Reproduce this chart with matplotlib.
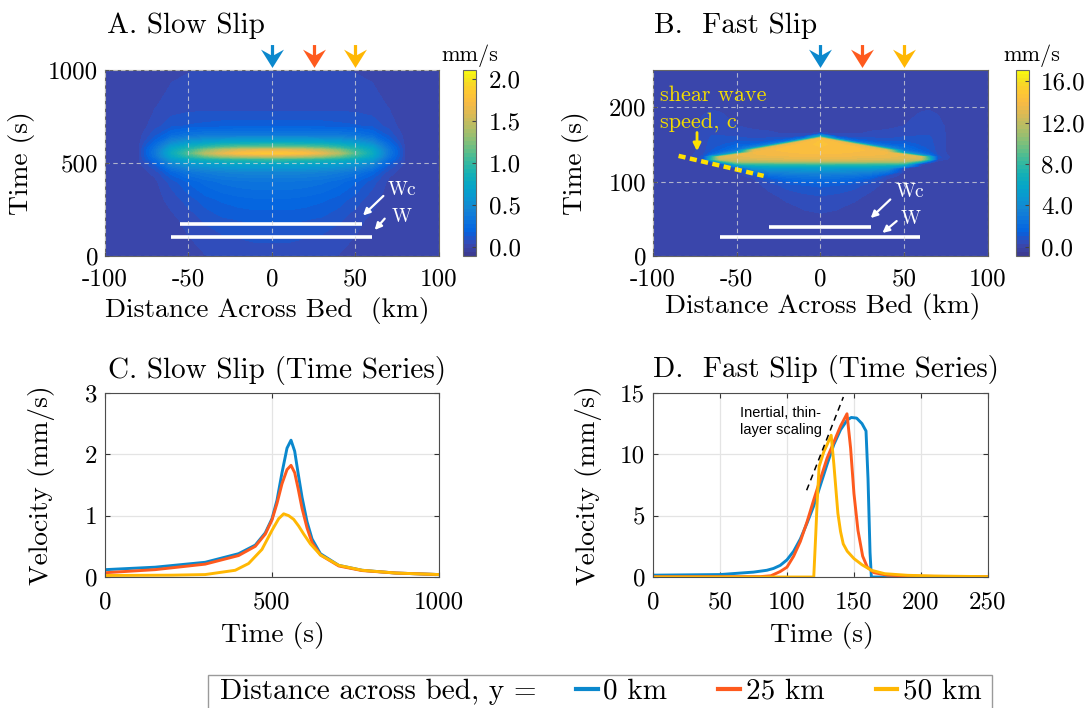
import numpy as np
import matplotlib
matplotlib.use('Agg')
import matplotlib.pyplot as plt
from matplotlib.colors import LinearSegmentedColormap
from matplotlib.path import Path
from matplotlib.lines import Line2D
from matplotlib.patches import Rectangle

plt.rcParams['font.family'] = ['cmr10', 'DejaVu Serif']
plt.rcParams['axes.unicode_minus'] = False

# ---------------- data ----------------
# panel A heatmap (half width, mirrored about x = 0), mm/s
xa_half = [0, 10, 20, 30, 40, 50, 60, 70, 80, 90, 100]
ta = [0, 100, 200, 300, 400, 450, 490, 520, 535, 552, 570, 585, 610, 650, 700, 800, 900, 1000]
va_half = [
    [0.05, 0.05, 0.05, 0.04, 0.03, 0.02, 0.01, 0.00, 0.00, 0.00, 0.00],
    [0.09, 0.09, 0.08, 0.07, 0.05, 0.03, 0.01, 0.00, 0.00, 0.00, 0.00],
    [0.14, 0.14, 0.13, 0.12, 0.09, 0.05, 0.02, 0.00, 0.00, 0.00, 0.00],
    [0.21, 0.21, 0.20, 0.18, 0.15, 0.10, 0.05, 0.01, 0.00, 0.00, 0.00],
    [0.31, 0.31, 0.30, 0.28, 0.24, 0.18, 0.10, 0.02, 0.00, 0.00, 0.00],
    [0.44, 0.44, 0.43, 0.41, 0.37, 0.31, 0.20, 0.05, 0.00, 0.00, 0.00],
    [0.68, 0.68, 0.67, 0.65, 0.61, 0.55, 0.42, 0.13, 0.01, 0.00, 0.00],
    [0.98, 0.97, 0.95, 0.91, 0.85, 0.76, 0.62, 0.24, 0.02, 0.00, 0.00],
    [1.45, 1.43, 1.38, 1.30, 1.14, 0.95, 0.73, 0.30, 0.02, 0.00, 0.00],
    [1.84, 1.82, 1.76, 1.63, 1.42, 1.08, 0.79, 0.33, 0.02, 0.00, 0.00],
    [1.62, 1.60, 1.55, 1.43, 1.24, 0.98, 0.75, 0.32, 0.02, 0.00, 0.00],
    [1.18, 1.17, 1.14, 1.08, 0.98, 0.84, 0.67, 0.28, 0.02, 0.00, 0.00],
    [0.76, 0.76, 0.75, 0.73, 0.68, 0.61, 0.48, 0.20, 0.01, 0.00, 0.00],
    [0.36, 0.36, 0.36, 0.35, 0.34, 0.31, 0.24, 0.11, 0.01, 0.00, 0.00],
    [0.15, 0.15, 0.15, 0.15, 0.14, 0.13, 0.11, 0.06, 0.00, 0.00, 0.00],
    [0.06, 0.06, 0.06, 0.06, 0.06, 0.06, 0.05, 0.03, 0.00, 0.00, 0.00],
    [0.045, 0.045, 0.045, 0.045, 0.045, 0.04, 0.035, 0.02, 0.00, 0.00, 0.00],
    [0.035, 0.035, 0.035, 0.035, 0.035, 0.03, 0.025, 0.015, 0.00, 0.00, 0.00],
]

# panel B heatmap (half width, mirrored), mm/s; one list per x column
xb_half = [0, 10, 20, 30, 40, 50, 60, 65, 70, 80, 100]
tb = [0, 50, 65, 80, 95, 103, 108, 113, 118, 121, 124, 127, 130, 133, 136, 139,
      142, 146, 150, 154, 158, 161, 165, 175, 190, 205, 250]
vb_cols = [
    [0.10, 0.15, 0.35, 0.60, 1.10, 2.00, 2.80, 3.90, 5.20, 6.60, 8.60, 11.5, 13.0, 13.6,
     13.9, 14.1, 14.2, 14.4, 14.5, 14.5, 14.3, 6.00, 0.30, 0.05, 0.00, 0.00, 0.00],
    [0.09, 0.12, 0.28, 0.50, 1.00, 1.90, 2.70, 3.80, 5.10, 6.50, 8.50, 11.5, 13.0, 13.6,
     13.9, 14.1, 14.2, 14.3, 14.3, 13.8, 2.50, 0.60, 0.20, 0.05, 0.00, 0.00, 0.00],
    [0.07, 0.08, 0.15, 0.35, 0.80, 1.60, 2.50, 3.70, 5.00, 6.50, 8.50, 11.5, 13.0, 13.5,
     13.8, 14.0, 14.1, 14.2, 13.2, 2.50, 0.80, 0.40, 0.20, 0.08, 0.02, 0.00, 0.00],
    [0.05, 0.05, 0.07, 0.15, 0.40, 1.00, 2.00, 3.40, 4.90, 6.40, 8.40, 11.4, 12.9, 13.4,
     13.7, 13.9, 14.0, 13.0, 3.00, 1.20, 0.70, 0.50, 0.30, 0.12, 0.04, 0.01, 0.00],
    [0.03, 0.03, 0.03, 0.05, 0.10, 0.20, 0.50, 2.50, 4.60, 6.20, 8.30, 11.3, 12.8, 13.3,
     13.6, 13.7, 13.0, 3.50, 1.50, 0.90, 0.60, 0.50, 0.35, 0.15, 0.05, 0.02, 0.00],
    [0.00, 0.00, 0.00, 0.00, 0.02, 0.05, 0.08, 0.12, 0.30, 4.50, 8.20, 11.2, 12.6, 13.1,
     13.3, 5.00, 2.60, 1.90, 1.40, 1.00, 0.75, 0.60, 0.45, 0.25, 0.10, 0.04, 0.02],
    [0.00, 0.00, 0.00, 0.00, 0.00, 0.00, 0.00, 0.02, 0.05, 0.10, 0.50, 7.00, 12.0, 12.8,
     4.00, 2.00, 1.40, 1.10, 0.90, 0.80, 0.70, 0.65, 0.60, 0.50, 0.30, 0.08, 0.00],
    [0.00, 0.00, 0.00, 0.00, 0.00, 0.00, 0.00, 0.00, 0.00, 0.00, 0.05, 1.50, 7.50, 7.00,
     2.00, 1.20, 1.00, 0.90, 0.80, 0.75, 0.70, 0.65, 0.60, 0.55, 0.35, 0.10, 0.00],
    [0.00, 0.00, 0.00, 0.00, 0.00, 0.00, 0.00, 0.00, 0.00, 0.00, 0.00, 0.10, 0.60, 0.80,
     0.60, 0.50, 0.45, 0.45, 0.45, 0.45, 0.45, 0.45, 0.45, 0.40, 0.25, 0.05, 0.00],
    [0.0] * 27,
    [0.0] * 27,
]

# panel C time series (slow slip), mm/s
tc = [0, 150, 300, 400, 450, 480, 500, 515, 530, 545, 557, 568, 578, 590, 605, 620, 645, 700, 770, 870, 1000]
vc_0 = [0.12, 0.16, 0.24, 0.38, 0.52, 0.72, 0.95, 1.25, 1.70, 2.10, 2.23, 2.05, 1.70, 1.30, 0.90, 0.62, 0.38, 0.19, 0.11, 0.065, 0.04]
vc_25 = [0.07, 0.12, 0.21, 0.35, 0.50, 0.70, 0.93, 1.20, 1.52, 1.75, 1.82, 1.70, 1.45, 1.12, 0.80, 0.56, 0.36, 0.18, 0.105, 0.065, 0.04]
tc_50 = [0, 200, 300, 390, 430, 470, 500, 520, 535, 550, 565, 580, 595, 615, 645, 700, 770, 870, 1000]
vc_50 = [0.025, 0.03, 0.04, 0.11, 0.22, 0.45, 0.76, 0.95, 1.03, 1.00, 0.94, 0.83, 0.70, 0.54, 0.36, 0.19, 0.11, 0.065, 0.04]

# panel D time series (fast slip), mm/s
td_0 = [0, 50, 75, 85, 90, 95, 100, 105, 110, 115, 120, 125, 130, 135, 140, 145, 148, 152, 156, 159, 160.5, 162, 163, 250]
vd_0 = [0.15, 0.20, 0.40, 0.55, 0.70, 0.95, 1.40, 2.10, 3.10, 4.40, 5.80, 7.50, 9.20, 10.8, 12.0, 12.8, 13.0, 12.95, 12.5, 11.9, 8.0, 2.0, 0.0, 0.0]
td_25 = [0, 80, 88, 95, 100, 105, 110, 115, 120, 125, 130, 135, 140, 144.8, 147.5, 150, 153, 156.5, 160, 165, 175, 200, 250]
vd_25 = [0.02, 0.03, 0.10, 0.45, 0.80, 1.70, 2.90, 4.50, 6.30, 8.00, 9.70, 11.0, 12.3, 13.3, 10.5, 6.8, 3.8, 1.7, 0.8, 0.35, 0.15, 0.06, 0.02]
td_50 = [0, 120, 121.5, 122.5, 124, 127.5, 130, 133, 135, 138, 140, 142, 145, 150, 156, 163, 173, 190, 210, 250]
vd_50 = [0.0, 0.0, 3.5, 6.0, 9.0, 10.2, 10.8, 11.55, 9.2, 5.2, 3.7, 2.7, 2.1, 1.5, 1.0, 0.55, 0.27, 0.14, 0.08, 0.03]

# thin-layer scaling guide
scale_t = [114.7, 142.1]
scale_v = [7.07, 14.67]

# annotation lengths
wc_a, w_a = [-55, 54], [-60.5, 60]
wc_b, w_b = [-30.5, 30], [-60.2, 59.6]
front_x, front_t = [-84.7, -33.9], [134.6, 107.7]

profile_x = [0, 25, 50]
labels = ['0 km', '25 km', '50 km']
colors = ['#0B88CD', '#FE5A1E', '#FFB703']

# ---------------- style ----------------
parula_rgb = [
    (0.235, 0.225, 0.560), (0.225, 0.285, 0.700), (0.0117, 0.3875, 0.8820),
    (0.0498, 0.4586, 0.8641), (0.0793, 0.5200, 0.8312), (0.0343, 0.5966, 0.8199),
    (0.0228, 0.6535, 0.7768), (0.0843, 0.6928, 0.7062), (0.2178, 0.7250, 0.6193),
    (0.3953, 0.7459, 0.5244), (0.5709, 0.7485, 0.4494), (0.7184, 0.7411, 0.3905),
    (0.8507, 0.7299, 0.3360), (0.9739, 0.7314, 0.2666), (0.9955, 0.7861, 0.1967),
    (0.9589, 0.8949, 0.1132), (0.9763, 0.9831, 0.0538)]
parula_pos = [i * 4 / 63 for i in range(16)] + [1.0]
parula = LinearSegmentedColormap.from_list('parula', list(zip(parula_pos, parula_rgb)), N=256)

arrow_marker = Path([(0, -1), (1, 0.6), (0.14, 0.12), (0.14, 1), (-0.14, 1),
                     (-0.14, 0.12), (-1, 0.6), (0, -1)],
                    [Path.MOVETO] + [Path.LINETO] * 6 + [Path.CLOSEPOLY])

TICK = 18
LAB = 19.8
TIT = 21

fig = plt.figure(figsize=(10.89, 7.08), dpi=100)

axA = fig.add_axes([0.0964, 0.6384, 0.3067, 0.2627])
caxA = fig.add_axes([0.4252, 0.6384, 0.0119, 0.2627])
axB = fig.add_axes([0.5996, 0.6384, 0.3076, 0.2627])
caxB = fig.add_axes([0.9330, 0.6384, 0.0115, 0.2627])
axC = fig.add_axes([0.0964, 0.1850, 0.3067, 0.2600])
axD = fig.add_axes([0.5996, 0.1850, 0.3076, 0.2600])


def mirror(xh, v):
    v = np.asarray(v, dtype=float)
    x = np.concatenate([-np.asarray(xh[::-1], float), np.asarray(xh[1:], float)])
    return x, np.hstack([v[:, ::-1], v[:, 1:]])


def white_arrow(ax, tip, tail):
    ax.annotate('', xy=tip, xytext=tail,
                arrowprops=dict(arrowstyle='-|>', color='white', lw=1.6,
                                mutation_scale=10, shrinkA=0, shrinkB=0))


def heat_panel(ax, cax, xh, t, v, vmin, vmax, cticks, ymax, yticks):
    x, vv = mirror(xh, v)
    cs = ax.contourf(x, t, vv, levels=np.linspace(vmin, vmax, 48), cmap=parula,
                     vmin=vmin, vmax=vmax)
    ax.set_xlim(-100, 100)
    ax.set_ylim(0, ymax)
    ax.set_xticks([-100, -50, 0, 50, 100])
    ax.set_yticks(yticks)
    ax.set_axisbelow(False)
    ax.grid(True, color='#d8d8d8', alpha=0.75, lw=0.8, ls=(0, (4, 3)))
    ax.tick_params(direction='in', length=3, labelsize=TICK, pad=9, color='#555555')
    ax.tick_params(axis='y', pad=5)
    for s in ax.spines.values():
        s.set_color('#666666')
    cb = fig.colorbar(cs, cax=cax, ticks=cticks)
    cb.ax.set_yticklabels(['%.1f' % c for c in cticks])
    cb.ax.tick_params(direction='in', length=3, labelsize=TICK, pad=9, color='#444444')
    cb.outline.set_edgecolor('#666666')
    for xp, c in zip(profile_x, colors):
        ax.plot([xp], [1.076], marker=arrow_marker, ms=16.5, color=c, mew=0,
                transform=ax.get_xaxis_transform(), clip_on=False)


# ---- A ----
heat_panel(axA, caxA, xa_half, ta, va_half, -0.11, 2.11,
           [0.0, 0.5, 1.0, 1.5, 2.0], 1000, [0, 500, 1000])
axA.plot(wc_a, [174, 174], color='white', lw=2.6, solid_capstyle='butt')
axA.plot(w_a, [102, 102], color='white', lw=2.6, solid_capstyle='butt')
white_arrow(axA, (54.5, 218), (66.7, 323))
white_arrow(axA, (61.5, 140), (67.5, 201))
axA.text(69.3, 354, 'Wc', color='white', fontsize=14, va='center')
axA.text(71.7, 210, 'W', color='white', fontsize=14, va='center')
axA.set_xlabel('Distance Across Bed  (km)', fontsize=LAB)
axA.set_ylabel('Time (s)', fontsize=LAB)
axA.xaxis.set_label_coords(0.486, -0.218)
axA.yaxis.set_label_coords(-0.211, 0.5)

# ---- B ----
heat_panel(axB, caxB, xb_half, tb, np.array(vb_cols).T, -0.9, 17.1,
           [0.0, 4.0, 8.0, 12.0, 16.0], 250, [0, 100, 200])
axB.plot(wc_b, [39.5, 39.5], color='white', lw=2.6, solid_capstyle='butt')
axB.plot(w_b, [25.6, 25.6], color='white', lw=2.6, solid_capstyle='butt')
white_arrow(axB, (30, 51), (41.7, 76))
white_arrow(axB, (37, 31), (45.5, 47))
axB.text(44.7, 86, 'Wc', color='white', fontsize=14, va='center')
axB.text(47.7, 50, 'W', color='white', fontsize=14, va='center')
axB.plot(front_x, front_t, color='#FFE100', lw=3.2, ls=(0, (1.6, 1.0)))
axB.annotate('', xy=(-73.7, 141), xytext=(-73.7, 166),
             arrowprops=dict(arrowstyle='-|>', color='#FFE100', lw=2.0,
                             mutation_scale=11, shrinkA=0, shrinkB=0))
axB.text(-95.6, 208.7, 'shear wave', color='#F2DC00', fontsize=16, va='baseline')
axB.text(-95.6, 172, 'speed, c', color='#F2DC00', fontsize=16, va='baseline')
axB.set_xlabel('Distance Across Bed (km)', fontsize=LAB)
axB.set_ylabel('Time (s)', fontsize=LAB)
axB.xaxis.set_label_coords(0.506, -0.199)
axB.yaxis.set_label_coords(-0.190, 0.5)


# ---- C, D ----
def series_panel(ax, xmax, xticks, ymax, yticks):
    ax.set_xlim(0, xmax)
    ax.set_ylim(0, ymax)
    ax.set_xticks(xticks)
    ax.set_yticks(yticks)
    ax.grid(True, color='#e4e4e4', lw=0.9)
    ax.set_axisbelow(True)
    ax.tick_params(direction='in', length=3.5, labelsize=TICK, pad=10,
                   top=True, right=True, color='#333333')
    ax.tick_params(axis='y', pad=5.5)
    for s in ax.spines.values():
        s.set_color('#4d4d4d')
    ax.set_xlabel('Time (s)', fontsize=LAB)
    ax.set_ylabel('Velocity (mm/s)', fontsize=LAB)


series_panel(axC, 1000, [0, 500, 1000], 3, [0, 1, 2, 3])
axC.plot(tc, vc_0, color=colors[0], lw=2.1)
axC.plot(tc, vc_25, color=colors[1], lw=2.1)
axC.plot(tc_50, vc_50, color=colors[2], lw=2.1)
axC.xaxis.set_label_coords(0.502, -0.242)
axC.yaxis.set_label_coords(-0.149, 0.5)

series_panel(axD, 250, [0, 50, 100, 150, 200, 250], 15, [0, 5, 10, 15])
axD.plot(td_0, vd_0, color=colors[0], lw=2.1)
axD.plot(td_25, vd_25, color=colors[1], lw=2.1)
axD.plot(td_50, vd_50, color=colors[2], lw=2.1)
axD.plot(scale_t, scale_v, color='black', lw=1.1, ls=(0, (4, 3)))
axD.text(64.8, 13.95, 'Inertial, thin-\nlayer scaling', fontsize=10.5,
         family=['Liberation Sans', 'DejaVu Sans'], va='top', linespacing=1.25)
axD.xaxis.set_label_coords(0.505, -0.242)
axD.yaxis.set_label_coords(-0.152, 0.5)

# ---- titles and colorbar units ----
fig.text(0.0980, 0.9527, 'A. Slow Slip', fontsize=TIT, va='baseline')
fig.text(0.6006, 0.9527, 'B.  Fast Slip', fontsize=TIT, va='baseline')
fig.text(0.0992, 0.4661, 'C. Slow Slip (Time Series)', fontsize=TIT, va='baseline')
fig.text(0.5996, 0.4675, 'D.  Fast Slip (Time Series)', fontsize=TIT, va='baseline')
fig.text(0.4316, 0.9138, 'mm/s', fontsize=16, ha='center', va='baseline')
fig.text(0.9477, 0.9138, 'mm/s', fontsize=16, ha='center', va='baseline')

# ---- legend ----
fig.add_artist(Rectangle((207.7 / 1089, -0.01), (992 - 207.7) / 1089, 0.01 + 33 / 708,
                         transform=fig.transFigure, fill=False, edgecolor='#9a9a9a', lw=1.0))
fig.text(220.5 / 1089, 1 - 691.7 / 708, 'Distance across bed, y =', fontsize=21, va='center')
handles = [Line2D([], [], color=c, lw=3) for c in colors]
fig.legend(handles, labels, loc='center left', bbox_to_anchor=(576 / 1089, 1 - 691.7 / 708),
           ncol=3, frameon=False, fontsize=21, handlelength=0.74, handletextpad=0.2,
           columnspacing=1.75, borderpad=0, borderaxespad=0)

fig.savefig('out.png', dpi=100)
